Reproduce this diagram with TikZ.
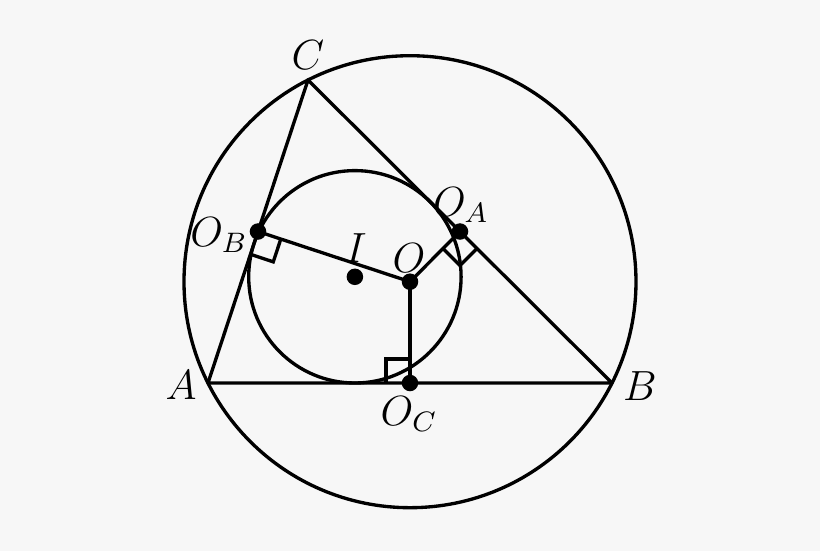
\documentclass[tikz,border=0pt]{standalone}
\usetikzlibrary{calc}
\definecolor{bg}{RGB}{247,247,247}
\begin{document}
\begin{tikzpicture}[x=0.01cm,y=-0.01cm,
  geom/.style={line width=0.95pt},
  dot/.style={circle,fill=black,inner sep=0pt,minimum size=0.165cm},
  lab/.style={inner sep=0pt,font=\fontsize{11.5}{14}\selectfont}]
\fill[bg] (0,0) rectangle (820,551);
\useasboundingbox (0,0) rectangle (820,551);
% points
\coordinate (A) at (208,383);
\coordinate (B) at (612,383);
\coordinate (C) at (308,80);
\coordinate (O) at (410,281.7);
\coordinate (I) at (354.9,276.8);
\coordinate (OA) at (460,231.5);
\coordinate (OB) at (258,231.5);
\coordinate (OC) at (410,383);
% circles
\draw[geom] (O) circle[radius=226];
\draw[geom] (I) circle[radius=106.2];
% triangle
\draw[geom,line join=round] (A) -- (B) -- (C) -- cycle;
% perpendiculars
\draw[geom] (O) -- (OA);
\draw[geom] (O) -- (OB);
\draw[geom] (O) -- (OC);
% right-angle marks
\coordinate (b1) at ($(OB)!0.24cm!(O)$);
\coordinate (b2) at ($(OB)!0.24cm!(A)$);
\draw[geom] (b1) -- ($(b1)+(b2)-(OB)$) -- (b2);
\coordinate (a1) at ($(OA)!0.24cm!(O)$);
\coordinate (a2) at ($(OA)!0.24cm!(B)$);
\draw[geom] (a1) -- ($(a1)+(a2)-(OA)$) -- (a2);
\coordinate (c1) at ($(OC)!0.24cm!(O)$);
\coordinate (c2) at ($(OC)!0.24cm!(A)$);
\draw[geom] (c1) -- ($(c1)+(c2)-(OC)$) -- (c2);
% dots
\node[dot] (dOA) at (OA) {};
\node[dot] (dOB) at (OB) {};
\node[dot] (dOC) at (OC) {};
\node[dot] (dO) at (O) {};
\node[dot] (dI) at (I) {};
% labels
\node[lab] (lA) at (181,385) {$A$};
\node[lab] (lB) at (640,386) {$B$};
\node[lab] (lC) at (308,55) {$C$};
\node[lab] (lI) at (356,248) {$I$};
\node[lab] (lO) at (409,258) {$O$};
\node[lab] (lOA) at (461,205) {$O_A$};
\node[lab] (lOB) at (219,235) {$O_B$};
\node[lab] (lOC) at (409,414) {$O_C$};
\end{tikzpicture}
\end{document}
